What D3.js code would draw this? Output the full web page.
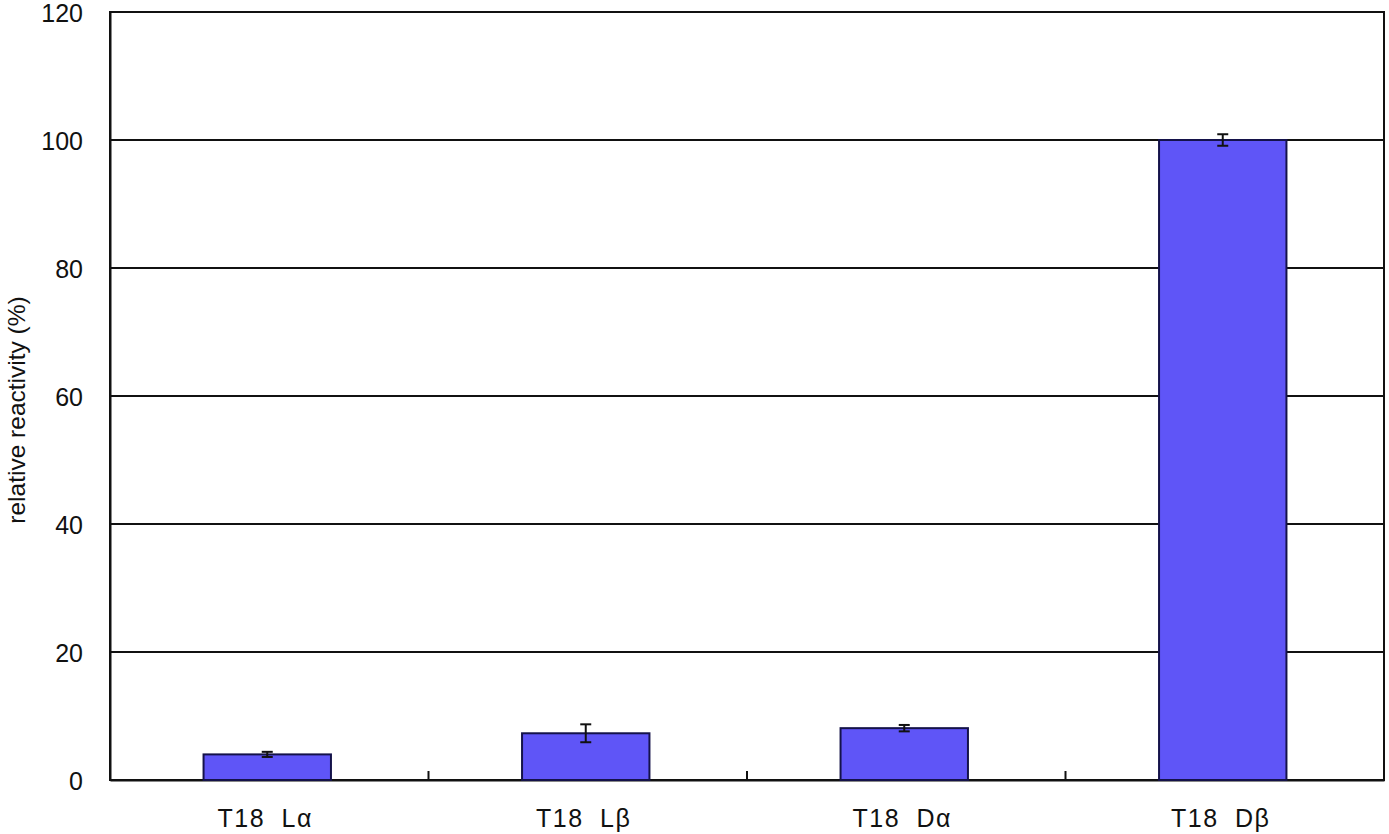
<!DOCTYPE html>
<html>
<head>
<meta charset="utf-8">
<script src="https://cdn.jsdelivr.net/npm/d3@7"></script>
<style>
  html, body { margin: 0; padding: 0; background: #fff; }
  svg { display: block; }
  text { font-family: "Liberation Sans", Arial, sans-serif; fill: #111; }
</style>
</head>
<body>
<svg id="chart" width="1389" height="834"></svg>
<script>
const categories = ["T18 Lα", "T18 Lβ", "T18 Dα", "T18 Dβ"];
const values = [4.0, 7.3, 8.1, 100];
const errors = [0.4, 1.4, 0.5, 0.9];
const yTicks = [0, 20, 40, 60, 80, 100, 120];
const yLabel = "relative reactivity (%)";

const W = 1389, H = 834;
const m = { left: 110, right: 5, top: 12, bottom: 54 };
const svg = d3.select("#chart");

const x = d3.scaleBand().domain(categories).range([m.left, W - m.right]).paddingInner(0).paddingOuter(0);
const y = d3.scaleLinear().domain([0, 120]).range([H - m.bottom, m.top]);

const barW = x.bandwidth() * 0.4;

// plot border
svg.append("rect")
  .attr("x", m.left).attr("y", y(120))
  .attr("width", W - m.right - m.left).attr("height", y(0) - y(120))
  .attr("fill", "none").attr("stroke", "#111").attr("stroke-width", 2);

// gridlines
svg.append("g").selectAll("line").data(yTicks.filter(d => d > 0 && d < 120)).join("line")
  .attr("x1", m.left).attr("x2", W - m.right)
  .attr("y1", d => y(d)).attr("y2", d => y(d))
  .attr("stroke", "#111").attr("stroke-width", 2);

// y axis labels
const yAxis = d3.axisLeft(y).tickValues(yTicks).tickSize(0).tickPadding(27);
const ya = svg.append("g").attr("transform", `translate(${m.left},0)`).call(yAxis);
ya.select(".domain").attr("stroke", "#111").attr("stroke-width", 2);
ya.selectAll("text").style("font-size", "25px").attr("fill", "#222").attr("dy", "0.36em");

// x axis
const xAxis = d3.axisBottom(x).tickSize(0).tickPadding(29);
const xa = svg.append("g").attr("transform", `translate(0,${y(0)})`).call(xAxis);
xa.select(".domain").attr("stroke", "#111").attr("stroke-width", 2);
xa.selectAll("text").style("font-size", "25px").attr("fill", "#222").attr("dx", -4)
  .style("white-space", "pre").attr("word-spacing", "8px").attr("letter-spacing", "1.5px");

// category boundary ticks (inside)
svg.append("g").selectAll("line").data(categories.slice(1)).join("line")
  .attr("x1", d => x(d)).attr("x2", d => x(d))
  .attr("y1", y(0)).attr("y2", y(0) - 9)
  .attr("stroke", "#111").attr("stroke-width", 2);

// bars
svg.append("g").selectAll("rect").data(categories).join("rect")
  .attr("x", d => x(d) + (x.bandwidth() - barW) / 2 - 2)
  .attr("y", (d, i) => y(values[i]))
  .attr("width", barW)
  .attr("height", (d, i) => y(0) - y(values[i]))
  .attr("fill", "#5f55f7").attr("stroke", "#14124a").attr("stroke-width", 2);

// error bars
const eg = svg.append("g").attr("stroke", "#111").attr("stroke-width", 2);
categories.forEach((c, i) => {
  const cx = x(c) + x.bandwidth() / 2 - 2;
  const hi = y(values[i] + errors[i]), lo = y(values[i] - errors[i]);
  eg.append("line").attr("x1", cx).attr("x2", cx).attr("y1", hi).attr("y2", lo);
  eg.append("line").attr("x1", cx - 5.5).attr("x2", cx + 5.5).attr("y1", hi).attr("y2", hi);
  eg.append("line").attr("x1", cx - 5.5).attr("x2", cx + 5.5).attr("y1", lo).attr("y2", lo);
});

// y label
svg.append("text")
  .attr("transform", `translate(25,410) rotate(-90)`)
  .attr("text-anchor", "middle")
  .attr("fill", "#222")
  .style("font-size", "24.5px")
  .text(yLabel);
</script>
</body>
</html>
